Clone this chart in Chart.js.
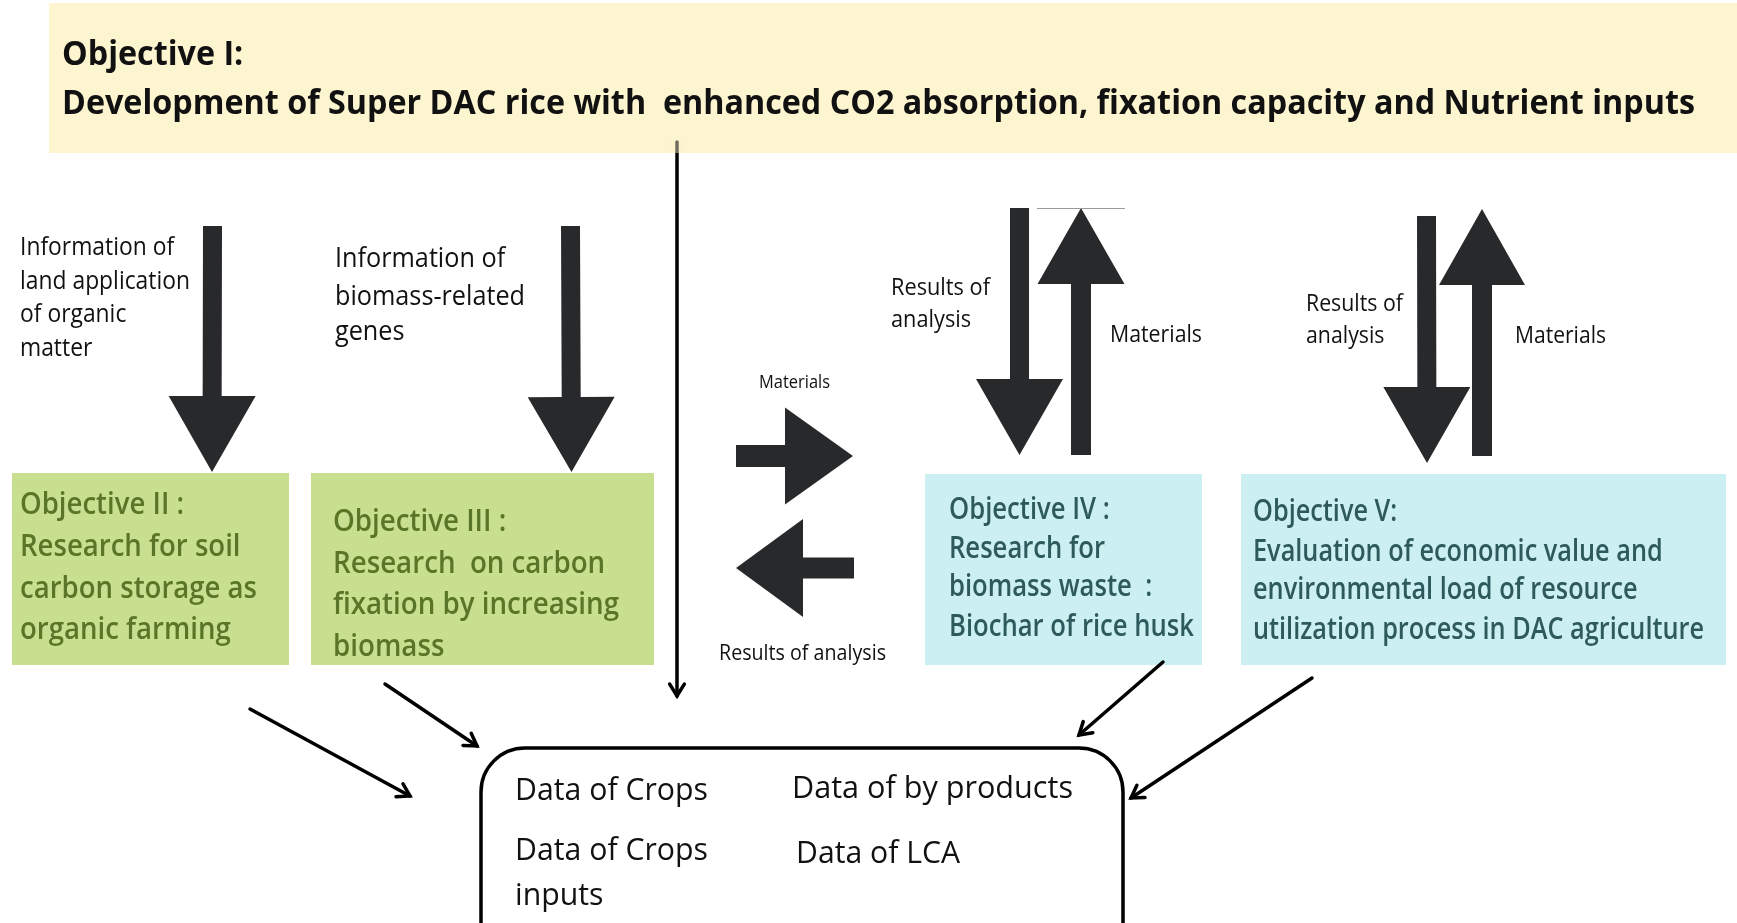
<!DOCTYPE html>
<html>
<head>
<meta charset="utf-8">
<script src="https://cdn.jsdelivr.net/npm/chart.js@4.4.1/dist/chart.umd.min.js"></script>
<style>
  html, body { margin: 0; padding: 0; background: #ffffff; }
  #wrap { width: 1737px; height: 923px; position: relative; }
</style>
</head>
<body>
<div id="wrap"><canvas id="c"></canvas></div>
<script>
// ---------------- text content (data) ----------------
const titleLines = ["Objective I:", "Development of Super DAC rice with  enhanced CO2 absorption, fixation capacity and Nutrient inputs"];
const infoSoilLines = ["Information of", "land application", "of organic", "matter"];
const infoGenesLines = ["Information of", "biomass-related", "genes"];
const objective2Lines = ["Objective II :", "Research for soil", "carbon storage as", "organic farming"];
const objective3Lines = ["Objective III :", "Research  on carbon", "fixation by increasing", "biomass"];
const objective4Lines = ["Objective IV :", "Research for", "biomass waste  :", "Biochar of rice husk"];
const objective5Lines = ["Objective V:", "Evaluation of economic value and", "environmental load of resource", "utilization process in DAC agriculture"];
const materialsLabel = ["Materials"];
const resultsLabel = ["Results of analysis"];
const resultsTwoLines = ["Results of", "analysis"];
const cropsLines = ["Data of Crops"];
const cropsInputsLines = ["Data of Crops", "inputs"];
const byProductsLines = ["Data of by products"];
const lcaLines = ["Data of LCA"];

// ---------------- layout (diagram units = axis values) ----------------
const FONT = '"Open Sans", "Noto Sans", sans-serif';
const C = {
  banner: '#fcf5cf', green: '#c9df90', greenText: '#5a7527',
  teal: '#ccf0f2', tealText: '#2e5a5d', arrow: '#28292b', ink: '#111111'
};
const rects = [
  { x0: 49, y0: 3, x1: 1737, y1: 153, fill: C.banner },
  { x0: 12, y0: 473, x1: 289, y1: 665, fill: C.green },
  { x0: 311, y0: 473, x1: 654, y1: 665, fill: C.green },
  { x0: 925, y0: 474, x1: 1202, y1: 665, fill: C.teal },
  { x0: 1241, y0: 474, x1: 1726, y1: 665, fill: C.teal }
];
const fatArrows = [
  { x1: 212.5, y1: 226, x2: 212, y2: 472, sw: 19, hw: 87, hl: 76 },
  { x1: 570.5, y1: 226, x2: 571.5, y2: 472, sw: 19, hw: 87, hl: 75 },
  { x1: 736, y1: 456, x2: 853, y2: 456, sw: 22, hw: 97, hl: 68 },
  { x1: 854, y1: 568, x2: 736, y2: 568, sw: 21, hw: 98, hl: 67 },
  { x1: 1019.5, y1: 208, x2: 1019.5, y2: 455, sw: 19, hw: 87, hl: 76 },
  { x1: 1081, y1: 455, x2: 1081, y2: 208, sw: 20, hw: 87, hl: 76 },
  { x1: 1426.5, y1: 216, x2: 1427, y2: 463, sw: 19, hw: 87, hl: 76 },
  { x1: 1482, y1: 456, x2: 1482, y2: 209, sw: 20, hw: 86, hl: 76 }
];
const thinArrows = [
  { x1: 250, y1: 709, x2: 410, y2: 796 },
  { x1: 385, y1: 684, x2: 477, y2: 746 },
  { x1: 677, y1: 142, x2: 677, y2: 696 },
  { x1: 1163, y1: 662, x2: 1079, y2: 735 },
  { x1: 1312, y1: 678, x2: 1131, y2: 798 }
];
const grayRule = { x1: 1037, y1: 208, x2: 1125, y2: 208 };
const bannerVeil = { x0: 670, y0: 140, x1: 684, y1: 153, fill: 'rgba(252,245,207,0.45)' };
const roundBox = { x0: 481, y0: 748, x1: 1123, y1: 975, r: 44 };
const textBlocks = [
  { lines: titleLines, x: 62, ys: [65, 114], size: 34, weight: 700, color: C.ink, w: 1633 },
  { lines: infoSoilLines, x: 20, ys: [255, 289, 322, 356], size: 25, weight: 400, color: C.ink, w: 170 },
  { lines: infoGenesLines, x: 335, ys: [267, 305, 340], size: 27, weight: 400, color: C.ink, w: 190 },
  { lines: objective2Lines, x: 20, ys: [514, 556, 598, 639], size: 30, weight: 600, color: C.greenText, w: 237 },
  { lines: objective3Lines, x: 333, ys: [531, 573, 614, 656], size: 30, weight: 600, color: C.greenText, w: 286 },
  { lines: objective4Lines, x: 949, ys: [519, 558, 596, 636], size: 30, weight: 600, color: C.tealText, w: 245 },
  { lines: objective5Lines, x: 1253, ys: [521, 561, 599, 639], size: 30, weight: 600, color: C.tealText, w: 451 },
  { lines: materialsLabel, x: 759, ys: [388], size: 18, weight: 400, color: C.ink, w: 71 },
  { lines: resultsLabel, x: 719, ys: [660], size: 22, weight: 400, color: C.ink, w: 167 },
  { lines: resultsTwoLines, x: 891, ys: [295, 327], size: 24, weight: 400, color: C.ink, w: 99 },
  { lines: materialsLabel, x: 1110, ys: [342], size: 24, weight: 400, color: C.ink, w: 92 },
  { lines: resultsTwoLines, x: 1306, ys: [311, 343], size: 24, weight: 400, color: C.ink, w: 97 },
  { lines: materialsLabel, x: 1515, ys: [343], size: 24, weight: 400, color: C.ink, w: 91 },
  { lines: cropsLines, x: 515, ys: [800], size: 31, weight: 400, color: C.ink, w: 193 },
  { lines: byProductsLines, x: 792, ys: [798], size: 31, weight: 400, color: C.ink, w: 281 },
  { lines: cropsInputsLines, x: 515, ys: [860, 905], size: 31, weight: 400, color: C.ink, w: 193 },
  { lines: lcaLines, x: 796, ys: [863], size: 31, weight: 400, color: C.ink, w: 164 }
];

// ---------------- drawing plugin ----------------
const diagramPlugin = {
  id: 'diagram',
  beforeDatasetsDraw(chart) {
    const ctx = chart.ctx, sx = chart.scales.x, sy = chart.scales.y;
    const X = v => sx.getPixelForValue(v), Y = v => sy.getPixelForValue(v);
    ctx.save();
    rects.forEach(r => {
      ctx.fillStyle = r.fill;
      ctx.fillRect(X(r.x0), Y(r.y0), X(r.x1) - X(r.x0), Y(r.y1) - Y(r.y0));
    });
    ctx.fillStyle = C.arrow;
    fatArrows.forEach(a => {
      const x1 = X(a.x1), y1 = Y(a.y1), x2 = X(a.x2), y2 = Y(a.y2);
      const len = Math.hypot(x2 - x1, y2 - y1);
      const ux = (x2 - x1) / len, uy = (y2 - y1) / len, px = -uy, py = ux;
      const bx = x2 - ux * a.hl, by = y2 - uy * a.hl;
      ctx.beginPath();
      ctx.moveTo(x1 + px * a.sw / 2, y1 + py * a.sw / 2);
      ctx.lineTo(bx + px * a.sw / 2, by + py * a.sw / 2);
      ctx.lineTo(bx + px * a.hw / 2, by + py * a.hw / 2);
      ctx.lineTo(x2, y2);
      ctx.lineTo(bx - px * a.hw / 2, by - py * a.hw / 2);
      ctx.lineTo(bx - px * a.sw / 2, by - py * a.sw / 2);
      ctx.lineTo(x1 - px * a.sw / 2, y1 - py * a.sw / 2);
      ctx.closePath();
      ctx.fill();
    });
    ctx.strokeStyle = '#9a9a9a'; ctx.lineWidth = 1;
    ctx.beginPath(); ctx.moveTo(X(grayRule.x1), Y(grayRule.y1) + 0.5); ctx.lineTo(X(grayRule.x2), Y(grayRule.y2) + 0.5); ctx.stroke();
    const b = roundBox;
    ctx.strokeStyle = '#000'; ctx.lineWidth = 3.5;
    ctx.beginPath();
    ctx.roundRect(X(b.x0), Y(b.y0), X(b.x1) - X(b.x0), Y(b.y1) - Y(b.y0), b.r);
    ctx.stroke();
    ctx.restore();
  },
  afterDatasetsDraw(chart) {
    const ctx = chart.ctx, sx = chart.scales.x, sy = chart.scales.y;
    const X = v => sx.getPixelForValue(v), Y = v => sy.getPixelForValue(v);
    ctx.save();
    const v = bannerVeil;
    ctx.fillStyle = v.fill;
    ctx.fillRect(X(v.x0), Y(v.y0), X(v.x1) - X(v.x0), Y(v.y1) - Y(v.y0));
    ctx.strokeStyle = '#000'; ctx.lineWidth = 3.5; ctx.lineCap = 'round'; ctx.lineJoin = 'miter';
    thinArrows.forEach(a => {
      const x1 = X(a.x1), y1 = Y(a.y1), x2 = X(a.x2), y2 = Y(a.y2);
      const ang = Math.atan2(y2 - y1, x2 - x1), L = 14, spread = 0.55;
      ctx.beginPath();
      ctx.moveTo(x2 - L * Math.cos(ang - spread), y2 - L * Math.sin(ang - spread));
      ctx.lineTo(x2, y2);
      ctx.lineTo(x2 - L * Math.cos(ang + spread), y2 - L * Math.sin(ang + spread));
      ctx.stroke();
    });
    ctx.textBaseline = 'alphabetic'; ctx.textAlign = 'left';
    textBlocks.forEach(t => {
      ctx.font = `${t.weight} ${t.size}px ${FONT}`;
      const maxW = Math.max(...t.lines.map(l => ctx.measureText(l).width));
      const k = t.w ? t.w / maxW : 1;
      ctx.fillStyle = t.color;
      t.lines.forEach((line, i) => {
        ctx.save();
        ctx.translate(X(t.x), Y(t.ys[i]));
        ctx.scale(k, 1);
        ctx.fillText(line, 0, 0);
        ctx.restore();
      });
    });
    ctx.restore();
  }
};

const lineDatasets = thinArrows.map(a => ({
  type: 'line',
  showLine: true,
  data: [{ x: a.x1, y: a.y1 }, { x: a.x2, y: a.y2 }],
  borderColor: '#000', borderWidth: 3.5, pointRadius: 0, fill: false, tension: 0,
  borderCapStyle: 'round', clip: false
}));

new Chart(document.getElementById('c'), {
  type: 'scatter',
  data: { datasets: lineDatasets },
  options: {
    animation: false, responsive: true, maintainAspectRatio: false, devicePixelRatio: 1,
    layout: { padding: 0 },
    scales: {
      x: { type: 'linear', min: 0, max: 1737, display: false },
      y: { type: 'linear', min: 0, max: 923, reverse: true, display: false }
    },
    plugins: { legend: { display: false }, tooltip: { enabled: false } },
    events: []
  },
  plugins: [diagramPlugin]
});
</script>
</body>
</html>
